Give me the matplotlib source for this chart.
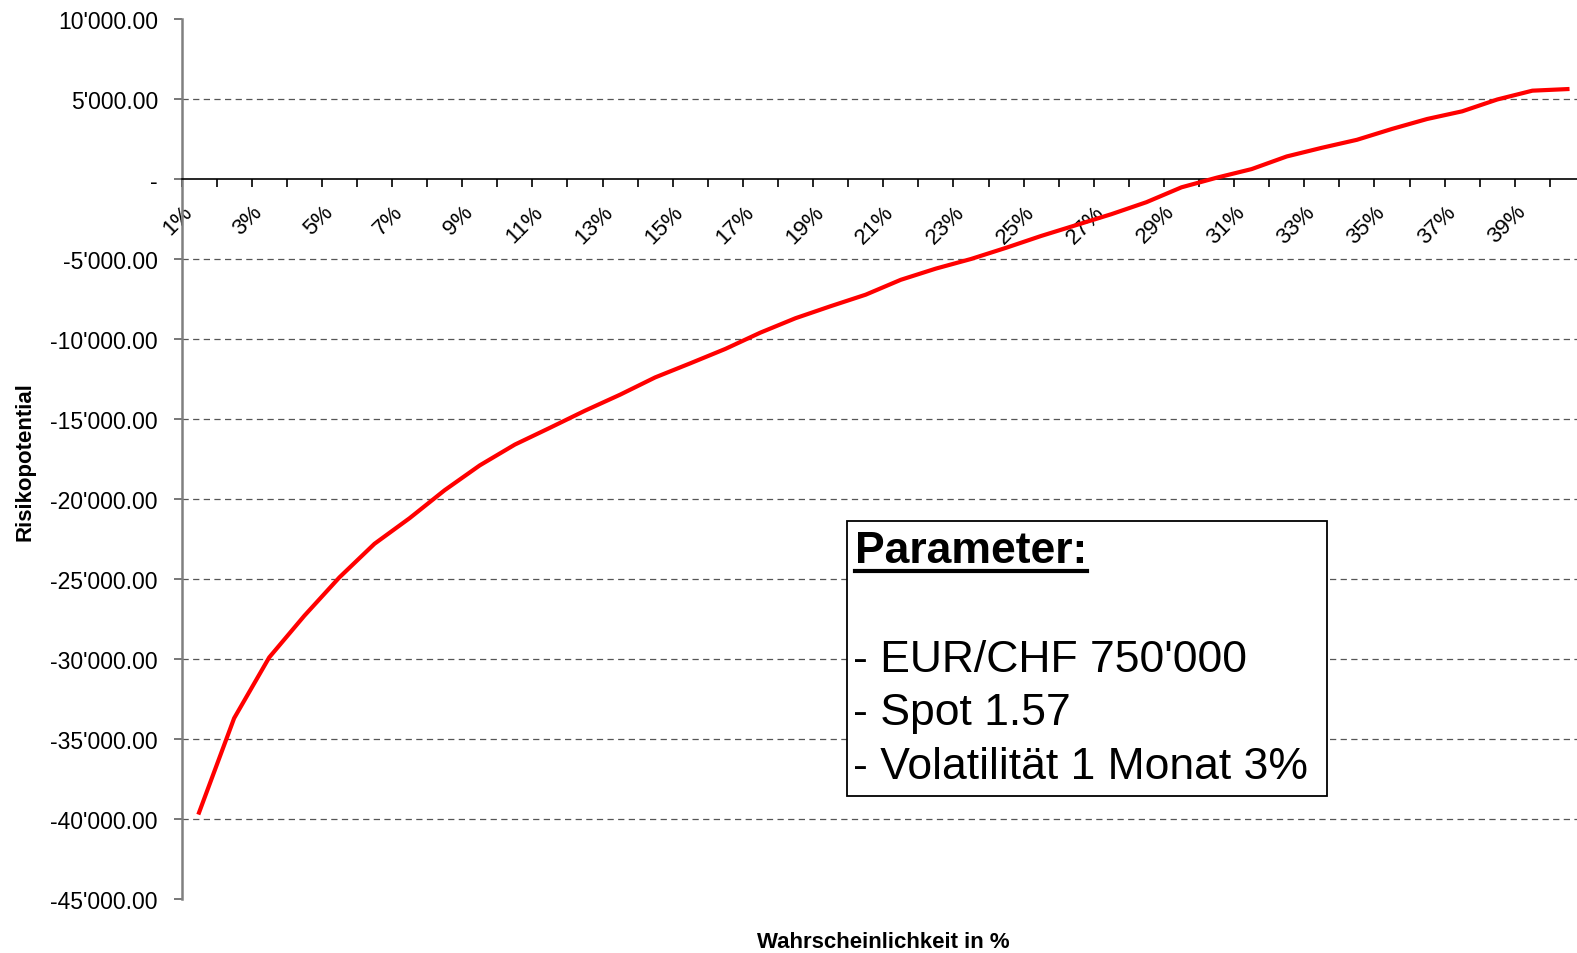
import numpy as np
import matplotlib
matplotlib.use("Agg")
import matplotlib.pyplot as plt
from matplotlib.patches import Rectangle
from matplotlib.lines import Line2D
from matplotlib.transforms import ScaledTranslation

plt.rcParams['font.family'] = ['Liberation Sans', 'DejaVu Sans']

# Wahrscheinlichkeit 1% .. 40%
kategorien = [f"{p}%" for p in range(1, 41)]
risiko = [-39600, -33700, -29900, -27300, -24900, -22800, -21200, -19450,
          -17900, -16600, -15550, -14480, -13480, -12400, -11520, -10620,
          -9600, -8700, -7950, -7230, -6300, -5600, -5000, -4300,
          -3560, -2880, -2200, -1450, -520, 80, 620, 1410,
          1950, 2450, 3130, 3750, 4230, 4970, 5520, 5620]
y_ticks = list(range(-45000, 10001, 5000))
grid_werte = [v for v in y_ticks if v not in (0, 10000, -45000)]

parameter_titel = "Parameter:"
parameter_zeilen = ["- EUR/CHF 750'000", "- Spot 1.57", "- Volatilität 1 Monat 3%"]

W, H = 1577, 954
fig = plt.figure(figsize=(W / 100, H / 100), dpi=100)
# plot area runs a little past the right edge like in the original
ax = fig.add_axes([181.5 / W, 1 - 900 / H, (1585 - 181.5) / W, 880 / H])

n = len(risiko)
xpos = np.arange(n) + 0.5
ax.plot(xpos, risiko, color="#ff0000", lw=3, solid_joinstyle="round", zorder=3)

ax.set_xlim(0, n)
ax.set_ylim(-45000, 10000)

# grid
ax.hlines(grid_werte, 0, n, colors="#555555", linestyles=(0, (5, 3.5)), lw=0.9, zorder=1)

# spines
ax.spines['top'].set_visible(False)
ax.spines['right'].set_visible(False)
ax.spines['bottom'].set_position(('data', 0))
ax.spines['bottom'].set_color("black")
ax.spines['bottom'].set_linewidth(1.2)
ax.spines['left'].set_color("#808080")
ax.spines['left'].set_linewidth(1.8)

# y axis
ax.set_yticks(y_ticks)
def fmt(v):
    if v == 0:
        return "-"
    return f"{v:,.2f}".replace(",", "'")
ax.set_yticklabels([fmt(v) for v in y_ticks])
ax.tick_params(axis='y', direction='out', length=6, width=1.2, color="#606060",
               labelsize=16.5, pad=11)

# x axis: ticks at boundaries, labels at every second category
ax.set_xticks(np.arange(0, n + 1))
ax.set_xticklabels([])
ax.set_xticks(xpos[::2], minor=True)
ax.set_xticklabels(kategorien[::2], minor=True)
ax.tick_params(axis='x', which='major', direction='out', length=6, width=1.2, color="black")
ax.tick_params(axis='x', which='minor', length=0, labelsize=16, pad=21)
off = ScaledTranslation(-10 / 100, 0, fig.dpi_scale_trans)
for lab in ax.get_xticklabels(minor=True):
    lab.set_rotation(45)
    lab.set_rotation_mode('anchor')
    lab.set_ha('right')
    lab.set_va('center')
    lab.set_transform(lab.get_transform() + off)

# axis titles
fig.text(25 / W, 1 - 462 / H, "Risikopotential", rotation=90, fontsize=16,
         fontweight='bold', ha='center', va='center')
fig.text(883 / W, 1 - 943 / H, "Wahrscheinlichkeit in %", fontsize=16,
         fontweight='bold', ha='center', va='center')

# Parameter box
box = Rectangle((847 / W, 1 - 797 / H), (1327 - 847) / W, (797 - 522) / H,
                transform=fig.transFigure, facecolor="white", edgecolor="black",
                lw=1.3, zorder=5)
fig.add_artist(box)
t = fig.text(855 / W, 1 - 563 / H, parameter_titel, fontsize=32, fontweight='bold',
             va='baseline', ha='left', zorder=6)
for i, zeile in enumerate(parameter_zeilen):
    fig.text(853 / W, 1 - (672 + 53.3 * i) / H, zeile, fontsize=32,
             va='baseline', ha='left', zorder=6)

fig.canvas.draw()
bb = t.get_window_extent()
y_ul = 1 - 572 / H
fig.add_artist(Line2D([bb.x0 / W, bb.x1 / W], [y_ul, y_ul], transform=fig.transFigure,
                      color="black", lw=3, zorder=6))

fig.savefig("out.png", dpi=100)
